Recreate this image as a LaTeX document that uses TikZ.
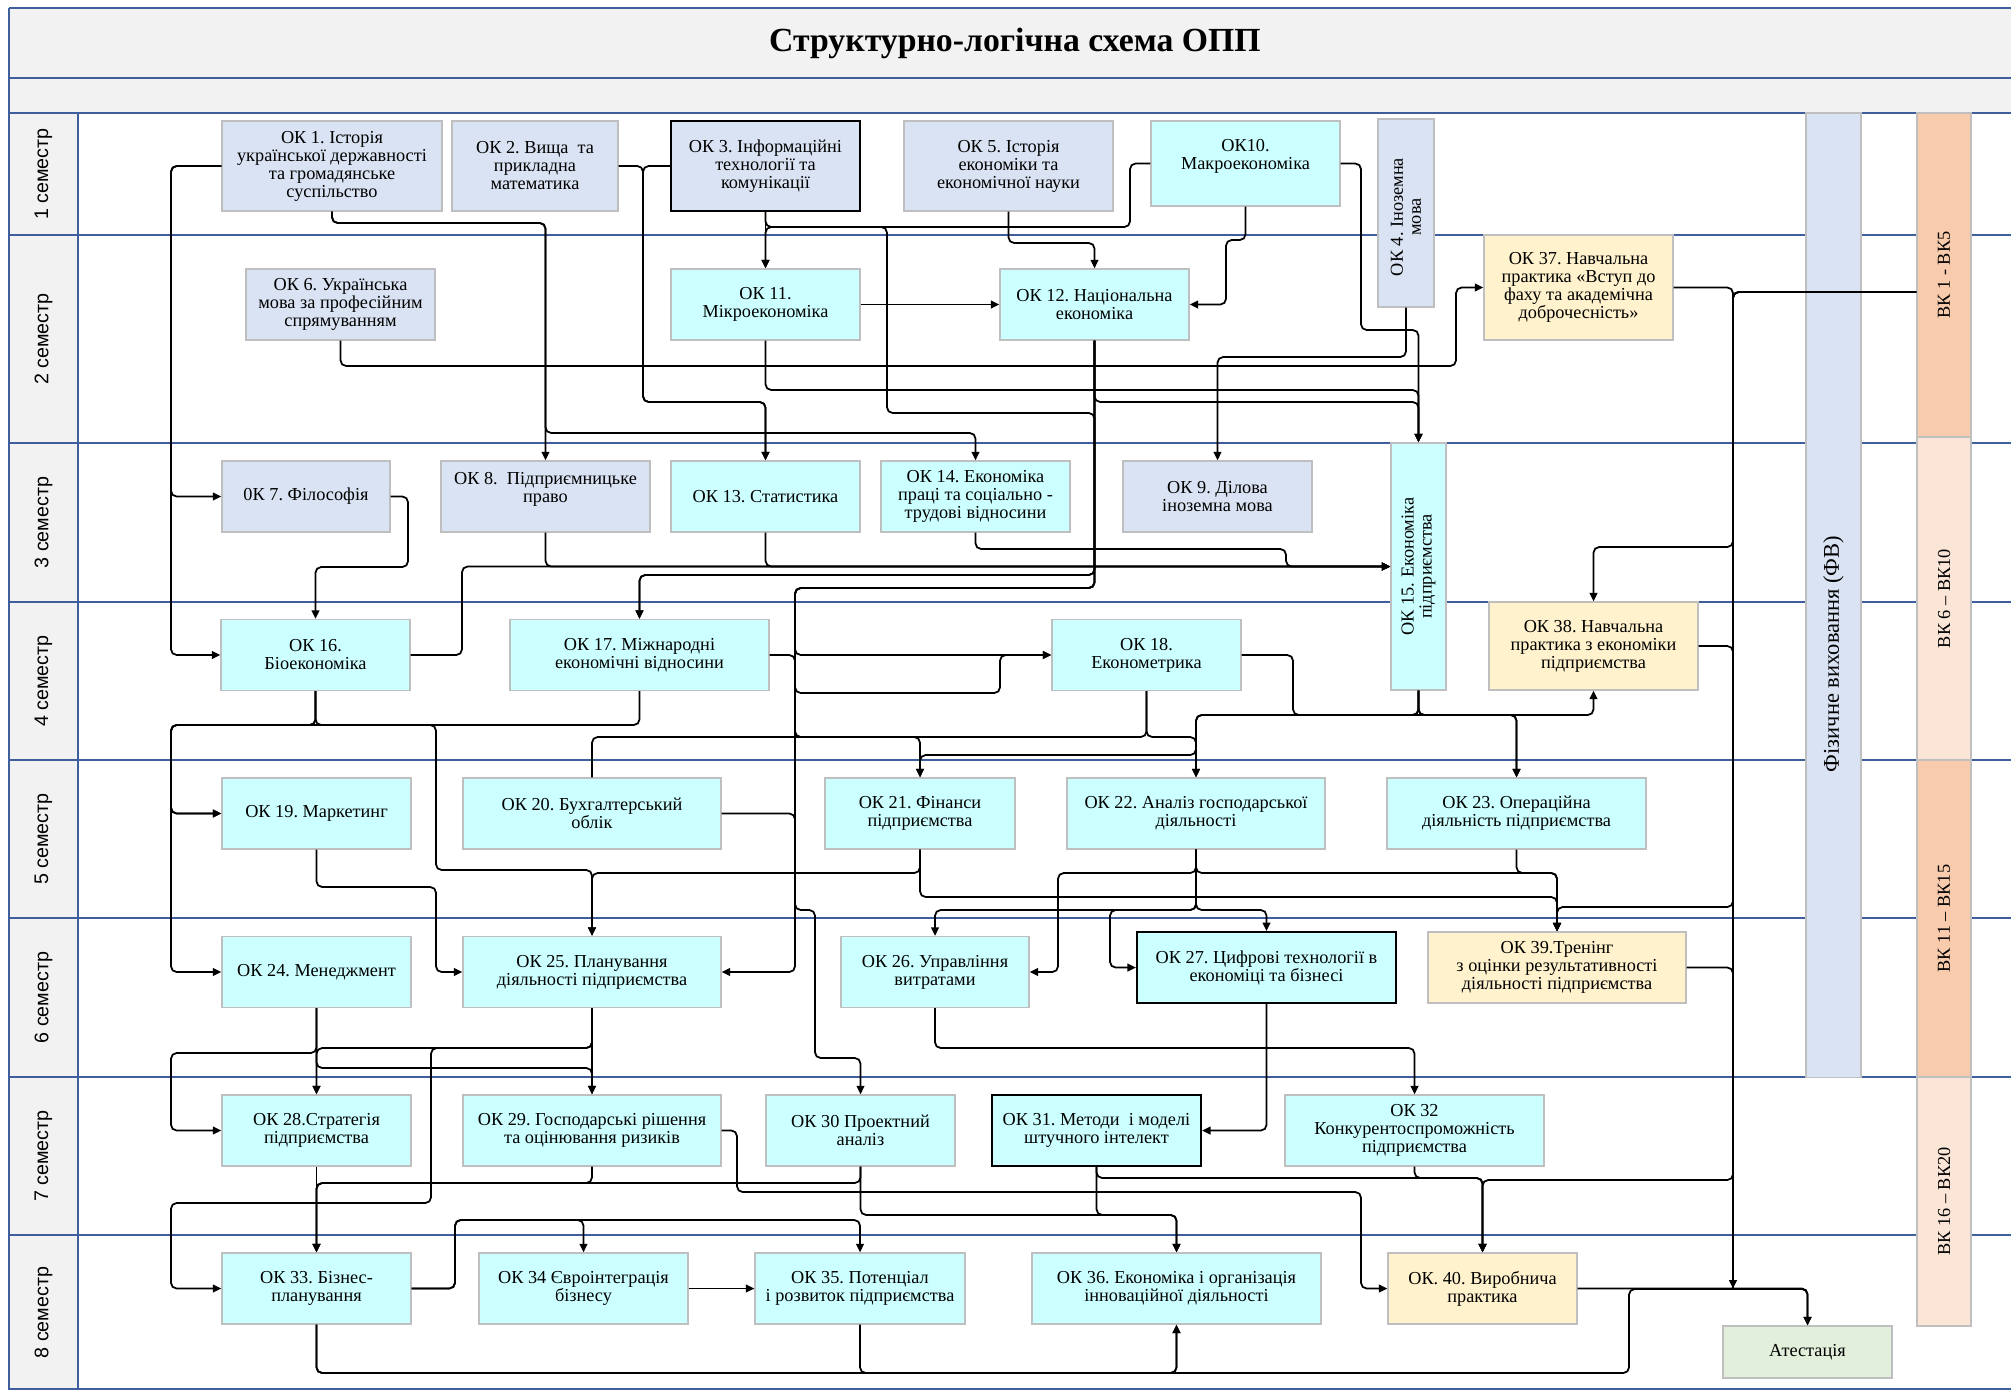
\documentclass[tikz,border=0pt]{standalone}
\usepackage{fontspec}
\setmainfont{Liberation Serif}
\newfontfamily\semfont{Liberation Sans}
\usetikzlibrary{arrows.meta}

\definecolor{lavfill}{HTML}{DAE3F3}
\definecolor{cyanfill}{HTML}{CCFFFF}
\definecolor{yelfill}{HTML}{FFF2CC}
\definecolor{greenfill}{HTML}{E2EFDA}
\definecolor{vkdark}{HTML}{F8CBAD}
\definecolor{vklight}{HTML}{FBE5D6}
\definecolor{boxgray}{HTML}{BFBFBF}
\definecolor{rowblue}{HTML}{3E5E9E}
\definecolor{headgray}{HTML}{F2F2F2}

\tikzstyle{okbox} = [rectangle, draw = boxgray, line width = 0.9pt, align = center, inner sep = 1pt, font = \fontsize{13}{12.8}\selectfont, minimum width = 4.725cm, minimum height = 1.775cm]
\tikzstyle{lavbox} = [okbox, fill = lavfill]
\tikzstyle{cyanbox} = [okbox, fill = cyanfill]
\tikzstyle{yelbox} = [okbox, fill = yelfill]
\tikzstyle{darkline} = [draw = black, line width = 1.5pt]
\tikzstyle{sidebar} = [rectangle, draw = boxgray, line width = 0.9pt, minimum width = 1.375cm]
\tikzstyle{sidetext} = [rotate = 90, align = center, font = \fontsize{13}{12.8}\selectfont]
\tikzstyle{semlabel} = [rotate = 90, font = \semfont\fontsize{14}{14}\selectfont]
\tikzstyle{rowline} = [draw = rowblue, line width = 1.3pt]
\tikzstyle{conn} = [draw, line width = 1.25pt, rounded corners = 4pt]
\tikzstyle{arr} = [conn, -{Triangle[length = 6pt, width = 5.5pt]}]

\begin{document}
\frenchspacing
\begin{tikzpicture}[x = 0.025cm, y = -0.025cm]
			\useasboundingbox (0,0) rectangle (2011,1390);
			% frame and semester rows
			\fill[headgray] (9,8) rectangle (2011,113);
			\fill[headgray] (9,113) rectangle (78,1390);
			\draw[rowline] (9,8) -- (2011,8);
			\draw[rowline] (9,78) -- (2011,78);
			\foreach \y in {113,235,443,602,760,918,1077,1235,1389}
				\draw[rowline] (9,\y) -- (2011,\y);
			\draw[rowline] (9,8) -- (9,1390);
			\draw[rowline] (78,113) -- (78,1390);
			\node[font = \fontsize{24}{26}\selectfont\bfseries] (title) at (1015,43) {Структурно-логічна схема ОПП};
			\foreach \n/\y in {1/174, 2/339, 3/522.5, 4/681, 5/839, 6/997.5, 7/1156, 8/1312.5}
				\node[semlabel] (sem\n) at (43.5,\y) {\n\ семестр};
			% side columns
			\node[sidebar, fill = lavfill, minimum height = 24.1cm] (fv) at (1833.5,595) {};
			\node[sidetext, font = \fontsize{16}{16}\selectfont] (fvt) at (1833.5,654) {Фізичне виховання (ФВ)};
			\node[sidebar, fill = vkdark, minimum width = 1.35cm, minimum height = 8.1cm] (vk1) at (1944,275) {};
			\node[sidetext, font = \fontsize{13}{13}\selectfont] (vk1t) at (vk1) {ВК 1 - ВК5};
			\node[sidebar, fill = vklight, minimum width = 1.35cm, minimum height = 8.075cm] (vk2) at (1944,598.5) {};
			\node[sidetext, font = \fontsize{13}{13}\selectfont] (vk2t) at (vk2) {ВК 6 – ВК10};
			\node[sidebar, fill = vkdark, minimum width = 1.35cm, minimum height = 7.925cm] (vk3) at (1944,918.5) {};
			\node[sidetext, font = \fontsize{13}{13}\selectfont] (vk3t) at (vk3) {ВК 11 – ВК15};
			\node[sidebar, fill = vklight, minimum width = 1.35cm, minimum height = 6.225cm] (vk4) at (1944,1201.5) {};
			\node[sidetext, font = \fontsize{13}{13}\selectfont] (vk4t) at (vk4) {ВК 16 – ВК20};
			% 1 semester
			\node[lavbox, minimum width = 5.5cm, minimum height = 2.25cm] (ok1) at (332,166) {ОК 1. Історія\\української державності\\та громадянське\\суспільство};
			\node[lavbox, minimum width = 4.15cm, minimum height = 2.25cm] (ok2) at (535,166) {ОК 2. Вища \ та\\прикладна\\математика};
			\node[lavbox, darkline, minimum height = 2.25cm] (ok3) at (765.5,166) {ОК 3. Інформаційні\\технології та\\комунікації};
			\node[lavbox, minimum width = 5.225cm, minimum height = 2.25cm] (ok5) at (1008.5,166) {ОК 5. Історія\\економіки та\\економічної науки};
			\node[cyanbox, minimum height = 2.125cm] (ok10) at (1245.5,163.5) {ОК10.\\Макроекономіка\\ \mbox{}};
			\node[lavbox, minimum width = 1.4cm, minimum height = 4.7cm] (ok4) at (1406,213) {};
			\node[sidetext] (ok4t) at (1406,217) {ОК 4. Іноземна\\мова};
			% 2 semester
			\node[lavbox] (ok6) at (340.5,304.5) {ОК 6. Українська\\мова за професійним\\спрямуванням};
			\node[cyanbox] (ok11) at (765.5,304.5) {ОК 11.\\Мікроекономіка};
			\node[cyanbox] (ok12) at (1094.5,304.5) {ОК 12. Національна\\економіка};
			\node[yelbox, minimum height = 2.625cm] (ok37) at (1578.5,287.5) {ОК 37. Навчальна\\практика «Вступ до\\фаху та академічна\\доброчесність»};
			% 3 semester
			\node[lavbox, minimum width = 4.2cm] (ok7) at (306,496.5) {0К 7. Філософія};
			\node[lavbox, minimum width = 5.225cm] (ok8) at (545.5,496.5) {ОК 8. \ Підприємницьке\\право\\ \mbox{}};
			\node[cyanbox] (ok13) at (765.5,496.5) {ОК 13. Статистика};
			\node[cyanbox] (ok14) at (975.5,496.5) {ОК 14. Економіка\\праці та соціально -\\трудові відносини};
			\node[lavbox] (ok9) at (1217.5,496.5) {ОК 9. Ділова\\іноземна мова};
			\node[cyanbox, minimum width = 1.375cm, minimum height = 6.175cm] (ok15) at (1418.5,566.5) {};
			\node[sidetext] (ok15t) at (ok15) {ОК 15. Економіка\\підприємства};
			% 4 semester
			\node[cyanbox] (ok16) at (315.5,655) {ОК 16.\\Біоекономіка};
			\node[cyanbox, minimum width = 6.475cm] (ok17) at (639.5,655) {ОК 17. Міжнародні\\економічні відносини};
			\node[cyanbox] (ok18) at (1146.5,655) {ОК 18.\\Економетрика};
			\node[yelbox, minimum width = 5.225cm, minimum height = 2.2cm] (ok38) at (1593.5,646) {ОК 38. Навчальна\\практика з економіки\\підприємства};
			% 5 semester
			\node[cyanbox] (ok19) at (316.5,813.5) {ОК 19. Маркетинг};
			\node[cyanbox, minimum width = 6.45cm] (ok20) at (592,813.5) {ОК 20. Бухгалтерський\\облік};
			\node[cyanbox, minimum width = 4.75cm] (ok21) at (920,813.5) {ОК 21. Фінанси\\підприємства};
			\node[cyanbox, minimum width = 6.45cm] (ok22) at (1196,813.5) {ОК 22. Аналіз господарської\\діяльності};
			\node[cyanbox, minimum width = 6.475cm] (ok23) at (1516.5,813.5) {ОК 23. Операційна\\діяльність підприємства};
			% 6 semester
			\node[cyanbox] (ok24) at (316.5,972) {ОК 24. Менеджмент};
			\node[cyanbox, minimum width = 6.45cm] (ok25) at (592,972) {ОК 25. Планування\\діяльності підприємства};
			\node[cyanbox, minimum width = 4.7cm] (ok26) at (935,972) {ОК 26. Управління\\витратами};
			\node[cyanbox, darkline, minimum width = 6.475cm] (ok27) at (1266.5,967.5) {ОК 27. Цифрові технології в\\економіці та бізнесі};
			\node[yelbox, minimum width = 6.45cm] (ok39) at (1557,967.5) {ОК 39.Тренінг\\з оцінки результативності\\діяльності підприємства};
			% 7 semester
			\node[cyanbox] (ok28) at (316.5,1130.5) {ОК 28.Стратегія\\підприємства};
			\node[cyanbox, minimum width = 6.45cm] (ok29) at (592,1130.5) {ОК 29. Господарські рішення\\та оцінювання ризиків};
			\node[cyanbox] (ok30) at (860.5,1130.5) {ОК 30 Проектний\\аналіз};
			\node[cyanbox, darkline, minimum width = 5.225cm] (ok31) at (1096.5,1130.5) {ОК 31. Методи \ і моделі\\штучного інтелект};
			\node[cyanbox, minimum width = 6.475cm] (ok32) at (1414.5,1130.5) {ОК 32\\Конкурентоспроможність\\підприємства};
			% 8 semester
			\node[cyanbox] (ok33) at (316.5,1288.5) {ОК 33. Бізнес-\\планування};
			\node[cyanbox, minimum width = 5.225cm] (ok34) at (583.5,1288.5) {ОК 34 Євроінтеграція\\бізнесу};
			\node[cyanbox, minimum width = 5.25cm] (ok35) at (860,1288.5) {ОК 35. Потенціал\\і розвиток підприємства};
			\node[cyanbox, minimum width = 7.225cm] (ok36) at (1176.5,1288.5) {ОК 36. Економіка і організація\\інноваційної діяльності};
			\node[yelbox] (ok40) at (1482.5,1288.5) {ОК. 40. Виробнича\\практика};
			\node[okbox, fill = greenfill, minimum width = 4.225cm, minimum height = 1.3cm] (att) at (1807.5,1352) {Атестація};
			%%%%%%%%%%%%%%%%%%%%%%%%%%%%%%%%%%%%%%%%%%%%%
			% connectors, semester 1 -> 2, 3
			%%%%%%%%%%%%%%%%%%%%%%%%%%%%%%%%%%%%%%%%%%%%%
			\draw[arr] (ok1.west) -| (171,330) |- (ok7.west);
			\draw[arr] (ok1.west) -| (171,330) |- (ok16.west);
			\draw[arr] (ok1.south) -- (332,223) -| (ok8.north);
			\draw[arr] (ok1.south) -- (332,223) -| (545.5,433) -| (ok14.north);
			\draw[arr] (ok2.east) -| (643,402) -| (ok13.north);
			\draw[arr] (ok3.west) -| (643,402) -| (ok13.north);
			\draw[arr] (ok3.south) -- (ok11.north);
			\draw[arr] (ok10.west) -| (1130,227) -| (ok11.north);
			\draw[arr] (ok5.south) -- (1008.5,243) -| (ok12.north);
			\draw[arr] (ok10.south) -- (1245.5,240) -| (1226,280) |- (ok12.east);
			\draw[arr] (ok11.east) -- (ok12.west);
			\draw[arr] (ok10.east) -| (1361,330) -| (ok15.north);
			\draw[arr] (ok4.south) -- (1406,357) -| (ok9.north);
			\draw[arr] (ok6.south) -- (340.5,366) -| (1456,320) |- (ok37.west);
			\draw[arr] (ok11.south) -- (765.5,390) -| (ok15.north);
			\draw[arr] (ok12.south) -- (1094.5,402) -| (ok15.north);
			% semester 2, 3 -> 3, 4
			\draw[arr] (ok3.south) -- (765.5,227) -| (887,413) -| (1094.5,575) -| (ok17.north);
			\draw[arr] (ok12.south) -- (1094.5,575) -| (ok17.north);
			\draw[arr] (ok12.south) -- (1094.5,588) -| (795,640) |- (ok18.west);
			\draw[arr] (ok7.east) -| (408,567) -| (ok16.north);
			\draw[arr] (ok8.south) |- (ok15.west);
			\draw[arr] (ok13.south) |- (ok15.west);
			\draw[arr] (ok14.south) |- (1286,549) |- (ok15.west);
			\draw[arr] (ok16.east) -| (462,600) |- (ok15.west);
			\draw[arr] (ok17.east) -| (795,693) -| (1000,670) |- (ok18.west);
			% semester 3, 4 -> 5
			\draw[arr] (ok15.south) -- (1418.5,715) -| (ok38.south);
			\draw[arr] (ok15.south) -- (1418.5,715) -| (ok23.north);
			\draw[arr] (ok15.south) -- (1418.5,715) -| (ok22.north);
			\draw[arr] (ok15.south) -- (1418.5,715) -| (1196,755) -| (ok21.north);
			\draw[arr] (ok18.south) -- (1146.5,737) -| (ok22.north);
			\draw[conn] (ok18.south) -- (1146.5,737) -| (ok20.north);
			\draw[arr] (ok12.south) -- (1094.5,588) -| (795,737) -| (ok21.north);
			\draw[arr] (ok18.east) -| (1293,715) -| (ok23.north);
			\draw[arr] (ok16.south) -- (315.5,725) -| (171,780) |- (ok19.west);
			\draw[arr] (ok16.south) -- (315.5,725) -| (171,780) |- (ok24.west);
			\draw[arr] (ok17.south) -- (639.5,725) -| (171,780) |- (ok19.west);
			\draw[arr] (ok16.south) -- (315.5,725) -| (436,870) -| (ok25.north);
			% semester 5 -> 6
			\draw[arr] (ok19.south) -- (316.5,887) -| (436,950) |- (ok25.west);
			\draw[arr] (ok20.east) -| (795,900) |- (ok25.east);
			\draw[arr] (ok21.south) -- (920,873) -| (ok25.north);
			\draw[arr] (ok21.south) -- (920,897) -| (ok39.north);
			\draw[arr] (ok22.south) -- (1196,873) -| (ok39.north);
			\draw[arr] (ok23.south) -- (1516.5,873) -| (ok39.north);
			\draw[arr] (ok22.south) -- (1196,873) -| (1058,950) |- (ok26.east);
			\draw[arr] (ok22.south) -- (1196,910) -| (ok26.north);
			\draw[arr] (ok22.south) -- (1196,910) -| (ok27.north);
			\draw[arr] (ok22.south) -- (1196,910) -| (1110,950) |- (ok27.west);
			\draw[arr] (ok12.south) -- (1094.5,588) -| (795,910) -- (815,910) -- (815,1058) -| (ok30.north);
			% semester 6 -> 7
			\draw[arr] (ok26.south) -- (935,1048) -| (ok32.north);
			\draw[arr] (ok27.south) |- (ok31.east);
			\draw[arr] (ok24.south) -- (ok28.north);
			\draw[arr] (ok24.south) -- (316.5,1068) -| (ok29.north);
			\draw[arr] (ok25.south) -- (ok29.north);
			\draw[arr] (ok25.south) -- (592,1048) -| (ok28.north);
			\draw[arr] (ok24.south) -- (316.5,1053) -| (171,1100) |- (ok28.west);
			% semester 7 -> 8
			\draw[arr] (ok25.south) -- (592,1048) -| (431,1203) -| (171,1250) |- (ok33.west);
			\draw[arr] (ok28.south) -- (ok33.north);
			\draw[arr] (ok29.south) -- (592,1183) -| (ok33.north);
			\draw[arr] (ok30.south) -- (860.5,1183) -| (ok33.north);
			\draw[arr] (ok29.east) -| (737,1192) -| (1361,1250) |- (ok40.west);
			\draw[arr] (ok30.south) -- (860.5,1215) -| (ok36.north);
			\draw[arr] (ok31.south) -- (1096.5,1215) -| (ok36.north);
			\draw[arr] (ok31.south) -- (1096.5,1178) -| (ok40.north);
			\draw[arr] (ok32.south) -- (1414.5,1178) -| (ok40.north);
			\draw[arr] (ok33.east) -| (455,1220) -| (ok34.north);
			\draw[arr] (ok33.east) -| (455,1220) -| (ok35.north);
			\draw[arr] (ok34.east) -- (ok35.west);
			\draw[arr] (ok33.south) -- (316.5,1373) -| (ok36.south);
			\draw[arr] (ok35.south) -- (860,1373) -| (ok36.south);
			\draw[arr] (ok33.south) -- (316.5,1373) -| (1629,1289) -| (att.north);
			\draw[arr] (ok40.east) -| (att.north);
			% practice line on the right
			\coordinate (vkout) at ([yshift = -0.425cm]vk1.west);
			\coordinate (vkend) at (1733,1288.5);
			\draw[arr] (vkout) -| (vkend);
			\draw[arr] (ok37.east) -| (1733,547) -| (ok38.north);
			\draw[arr] (vkout) -| (1733,907) -| (ok39.north);
			\draw[arr] (vkout) -| (1733,1180) -| (ok40.north);
			\draw[conn] (ok38.east) -| (vkend);
			\draw[conn] (ok39.east) -| (vkend);
		\end{tikzpicture}
\end{document}
